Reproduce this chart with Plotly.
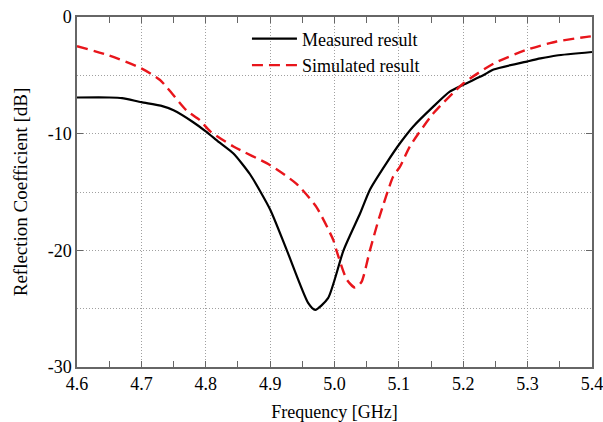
import plotly.graph_objects as go

meas_f = [4.60, 4.65, 4.67, 4.70, 4.73, 4.75, 4.78, 4.80, 4.82, 4.843, 4.869, 4.90, 4.926,
          4.959, 4.970, 4.990, 5.014, 5.040, 5.055, 5.081, 5.102, 5.122, 5.153, 5.179, 5.200,
          5.231, 5.247, 5.300, 5.320, 5.345, 5.400]
meas_db = [-6.9, -6.9, -6.95, -7.3, -7.6, -8.0, -9.0, -9.8, -10.7, -11.7, -13.5, -16.5, -20.0,
           -24.5, -25.1, -24.1, -20.0, -16.8, -14.8, -12.5, -10.8, -9.4, -7.7, -6.4, -5.8,
           -5.0, -4.5, -3.8, -3.55, -3.3, -3.0]

sim_f = [4.60, 4.65, 4.70, 4.729, 4.77, 4.79, 4.807, 4.843, 4.90, 4.941, 4.972, 4.998, 5.003,
         5.019, 5.032, 5.042, 5.055, 5.070, 5.091, 5.102, 5.117, 5.153, 5.200, 5.247, 5.299,
         5.345, 5.392, 5.400]
sim_db = [-2.5, -3.3, -4.4, -5.4, -8.0, -8.8, -9.8, -11.1, -12.7, -14.3, -16.3, -19.1, -20.0,
          -22.5, -23.2, -22.7, -20.0, -17.1, -13.7, -12.8, -11.1, -8.3, -5.7, -4.0, -2.8,
          -2.1, -1.7, -1.65]

x_ticks = [4.6, 4.7, 4.8, 4.9, 5.0, 5.1, 5.2, 5.3, 5.4]
x_tick_text = ["4.6", "4.7", "4.8", "4.9", "5.0", "5.1", "5.2", "5.3", "5.4"]
y_ticks = [0, -10, -20, -30]
y_tick_text = ["0", "-10", "-20", "-30"]

font_family = "Liberation Serif"
grid_color = "#a0a0a0"
grid_dash = "1px,2px"

fig = go.Figure()
fig.add_trace(go.Scatter(x=meas_f, y=meas_db, mode="lines", name="Measured result",
                         line=dict(color="black", width=2.2, shape="spline", smoothing=0.6)))
fig.add_trace(go.Scatter(x=sim_f, y=sim_db, mode="lines", name="Simulated result",
                         line=dict(color="#e8151b", width=2.4, dash="11px,6px",
                                   shape="spline", smoothing=0.6)))

axis_common = dict(showline=True, linecolor="#666666", linewidth=1.5, mirror="allticks",
                   ticks="inside", tickcolor="#666666", ticklen=6, automargin=False,
                   ticklabeloverflow="allow",
                   showgrid=True, gridcolor=grid_color, gridwidth=1, griddash=grid_dash,
                   zeroline=False, tickfont=dict(size=18, color="black", family=font_family))

fig.update_xaxes(range=[4.6, 5.4], tickvals=x_ticks, ticktext=x_tick_text,
                 minor=dict(dtick=0.05, tick0=4.6, ticks="inside", ticklen=6, tickcolor="#666666",
                            showgrid=False),
                 title=dict(text="Frequency [GHz]", font=dict(size=18, family=font_family, color="black"),
                            standoff=14),
                 **axis_common)
fig.update_yaxes(range=[-30, 0], tickvals=y_ticks, ticktext=y_tick_text,
                 minor=dict(dtick=5, tick0=0, ticks="", showgrid=True, gridcolor=grid_color,
                            griddash=grid_dash, gridwidth=1),
                 title=dict(text="Reflection Coefficient [dB]",
                            font=dict(size=19, family=font_family, color="black"), standoff=15),
                 **axis_common)

fig.update_layout(
    width=603, height=422,
    margin=dict(l=77, r=11, t=17, b=55),
    paper_bgcolor="white", plot_bgcolor="white",
    showlegend=True,
    legend=dict(x=0.33, y=0.99, xanchor="left", yanchor="top", bgcolor="rgba(255,255,255,0)",
                font=dict(size=18, family=font_family, color="black"),
                itemwidth=45, tracegroupgap=0),
    font=dict(family=font_family),
)

fig.write_html("out.html", config={"displayModeBar": False},
               post_script="document.body.style.margin='0';")
